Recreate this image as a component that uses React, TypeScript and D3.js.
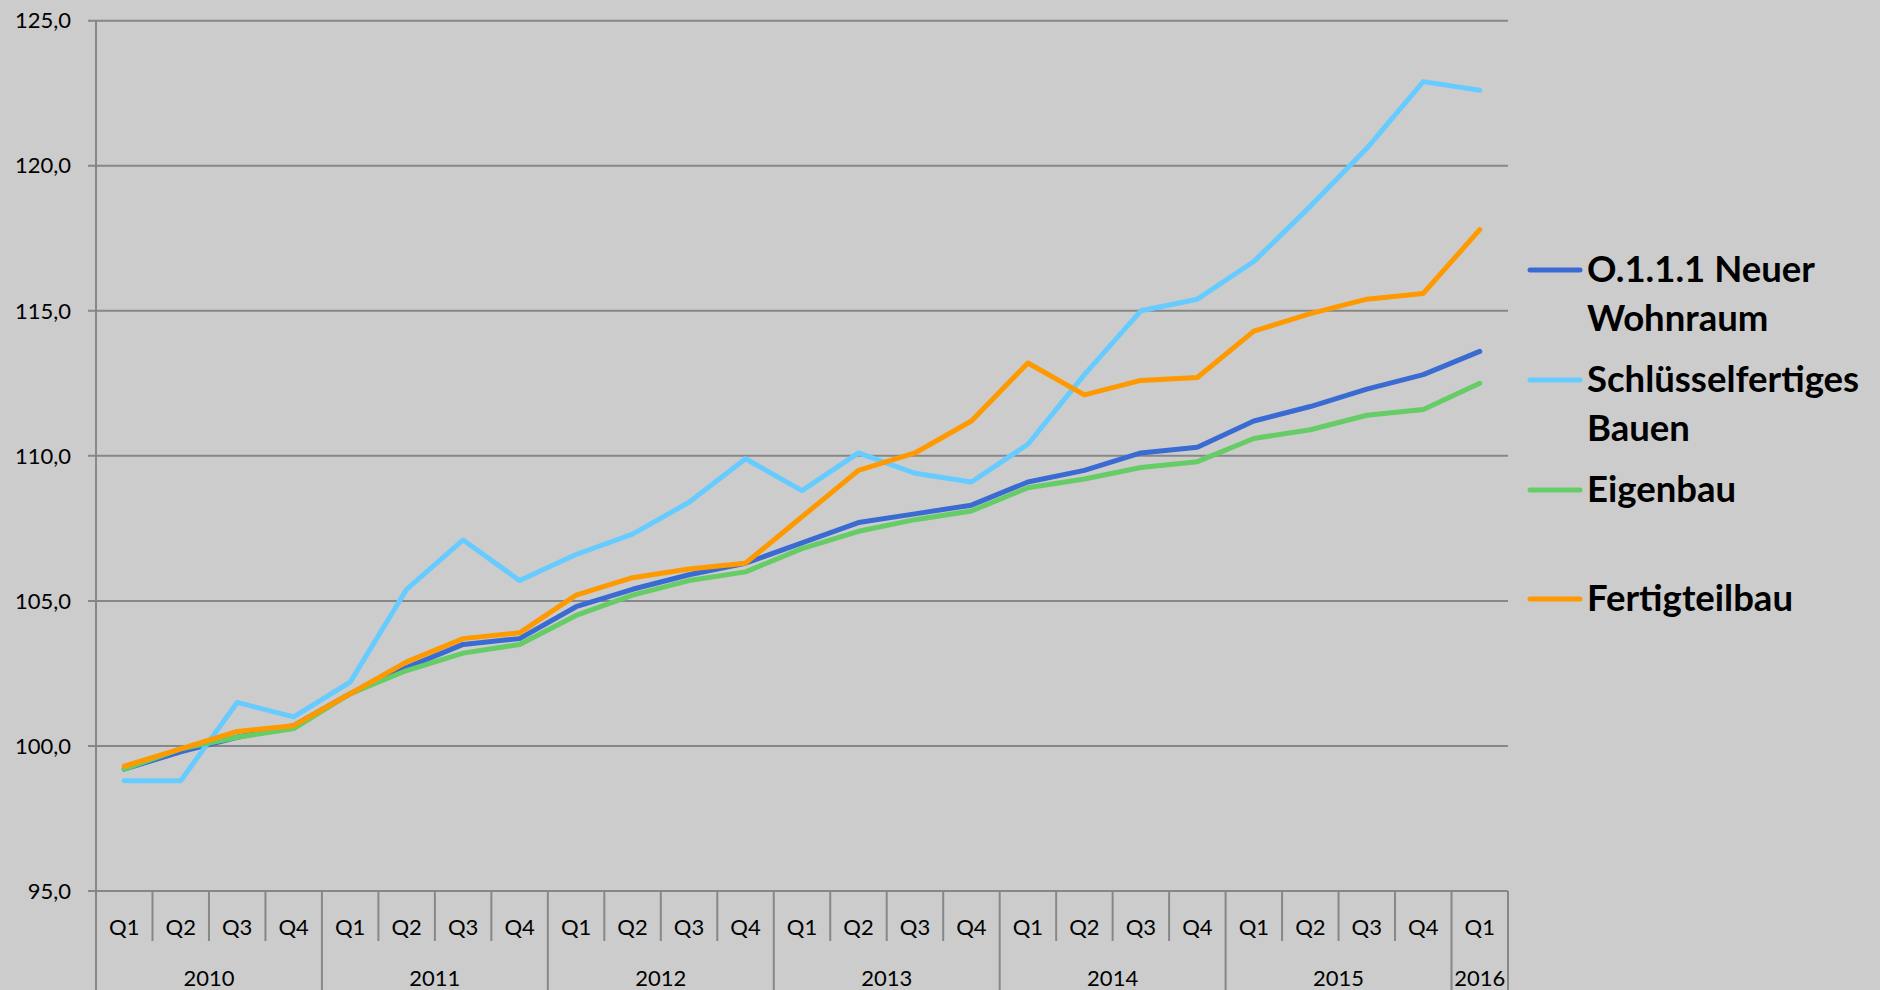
import React from "react";
import * as d3 from "d3";

// values (index, 2010 = 100)
const years = ["2010", "2011", "2012", "2013", "2014", "2015", "2016"];
const quartersPerYear = [4, 4, 4, 4, 4, 4, 1];
const quarterNames = ["Q1", "Q2", "Q3", "Q4"];

const neuerWohnraum = [99.2, 99.8, 100.3, 100.7, 101.8, 102.7, 103.5, 103.7, 104.8, 105.4, 105.9, 106.3, 107.0, 107.7, 108.0, 108.3, 109.1, 109.5, 110.1, 110.3, 111.2, 111.7, 112.3, 112.8, 113.6];
const schluesselfertig = [98.8, 98.8, 101.5, 101.0, 102.2, 105.4, 107.1, 105.7, 106.6, 107.3, 108.4, 109.9, 108.8, 110.1, 109.4, 109.1, 110.4, 112.8, 115.0, 115.4, 116.7, 118.6, 120.6, 122.9, 122.6];
const eigenbau = [99.2, 99.9, 100.3, 100.6, 101.8, 102.6, 103.2, 103.5, 104.5, 105.2, 105.7, 106.0, 106.8, 107.4, 107.8, 108.1, 108.9, 109.2, 109.6, 109.8, 110.6, 110.9, 111.4, 111.6, 112.5];
const fertigteilbau = [99.3, 99.9, 100.5, 100.7, 101.8, 102.9, 103.7, 103.9, 105.2, 105.8, 106.1, 106.3, 107.9, 109.5, 110.1, 111.2, 113.2, 112.1, 112.6, 112.7, 114.3, 114.9, 115.4, 115.6, 117.8];

const yTicks = [95, 100, 105, 110, 115, 120, 125];

const series = [
  { name: ["O.1.1.1 Neuer", "Wohnraum"], color: "#3a6bd2", values: neuerWohnraum },
  { name: ["Schlüsselfertiges", "Bauen"], color: "#66ccff", values: schluesselfertig },
  { name: ["Eigenbau"], color: "#66cc66", values: eigenbau },
  { name: ["Fertigteilbau"], color: "#ff9900", values: fertigteilbau },
];

const W = 1880, H = 990;
const left = 96, right = 1508, top = 20.7, bottom = 891;
const font = "Lato, 'Open Sans', sans-serif";
const gridCol = "#878787";

export default function App() {
  const cats: string[] = [];
  const yearSpans: { year: string; first: string; last: string }[] = [];
  years.forEach((y, yi) => {
    const n = quartersPerYear[yi];
    for (let q = 0; q < n; q++) cats.push(`${y}-${quarterNames[q]}`);
    yearSpans.push({ year: y, first: `${y}-Q1`, last: `${y}-${quarterNames[n - 1]}` });
  });

  const x = d3.scaleBand<string>().domain(cats).range([left, right]).padding(0);
  const y = d3.scaleLinear().domain([95, 125]).range([bottom, top]);
  const line = d3.line<number>()
    .x((_, i) => (x(cats[i]) as number) + x.bandwidth() / 2)
    .y(d => y(d));

  const fmt = (v: number) => v.toFixed(1).replace(".", ",");

  const legendY = [270, 380, 490, 599];

  return (
    <div style={{ position: "absolute", left: 0, top: 0, width: W, height: H, background: "#cccccc" }}>
      <svg width={W} height={H} style={{ display: "block" }} fontFamily={font}>
        <rect width={W} height={H} fill="#cccccc" />
        {/* gridlines + y ticks */}
        {yTicks.map(t => (
          <g key={t}>
            <line x1={left - 8} x2={right} y1={y(t)} y2={y(t)} stroke={gridCol} strokeWidth={2} />
            <text x={71} y={y(t)} dy="0.35em" textAnchor="end" fontSize={22} fill="#000">{fmt(t)}</text>
          </g>
        ))}
        {/* y axis */}
        <line x1={left} x2={left} y1={top} y2={H} stroke={gridCol} strokeWidth={2} />
        {/* category axis */}
        {cats.map((c, i) => {
          const x0 = x(c) as number;
          const isYearStart = c.endsWith("Q1");
          return (
            <g key={c}>
              {i > 0 && (
                <line x1={x0} x2={x0} y1={bottom} y2={isYearStart ? H : 941} stroke={gridCol} strokeWidth={2} />
              )}
              <text x={x0 + x.bandwidth() / 2} y={927} dy="0.35em" textAnchor="middle" fontSize={22} fill="#000">
                {c.split("-")[1]}
              </text>
            </g>
          );
        })}
        <line x1={right} x2={right} y1={bottom} y2={H} stroke={gridCol} strokeWidth={2} />
        {yearSpans.map(s => {
          const a = x(s.first) as number;
          const b = (x(s.last) as number) + x.bandwidth();
          return (
            <text key={s.year} x={(a + b) / 2} y={978} dy="0.35em" textAnchor="middle" fontSize={22} fill="#000">
              {s.year}
            </text>
          );
        })}
        {/* series */}
        {series.map(s => (
          <path key={s.name.join(" ")} d={line(s.values) || ""} fill="none" stroke={s.color}
            strokeWidth={5} strokeLinejoin="round" strokeLinecap="round" />
        ))}
        {/* legend */}
        {series.map((s, i) => (
          <g key={"lg" + i}>
            <line x1={1530} x2={1580} y1={legendY[i]} y2={legendY[i]} stroke={s.color} strokeWidth={5} strokeLinecap="round" />
            <text x={1587} y={legendY[i] + 12} fontSize={36.5} fontWeight="bold" fill="#000">
              {s.name.map((n, k) => (
                <tspan key={k} x={1587} dy={k === 0 ? 0 : 49}>{n}</tspan>
              ))}
            </text>
          </g>
        ))}
      </svg>
    </div>
  );
}
